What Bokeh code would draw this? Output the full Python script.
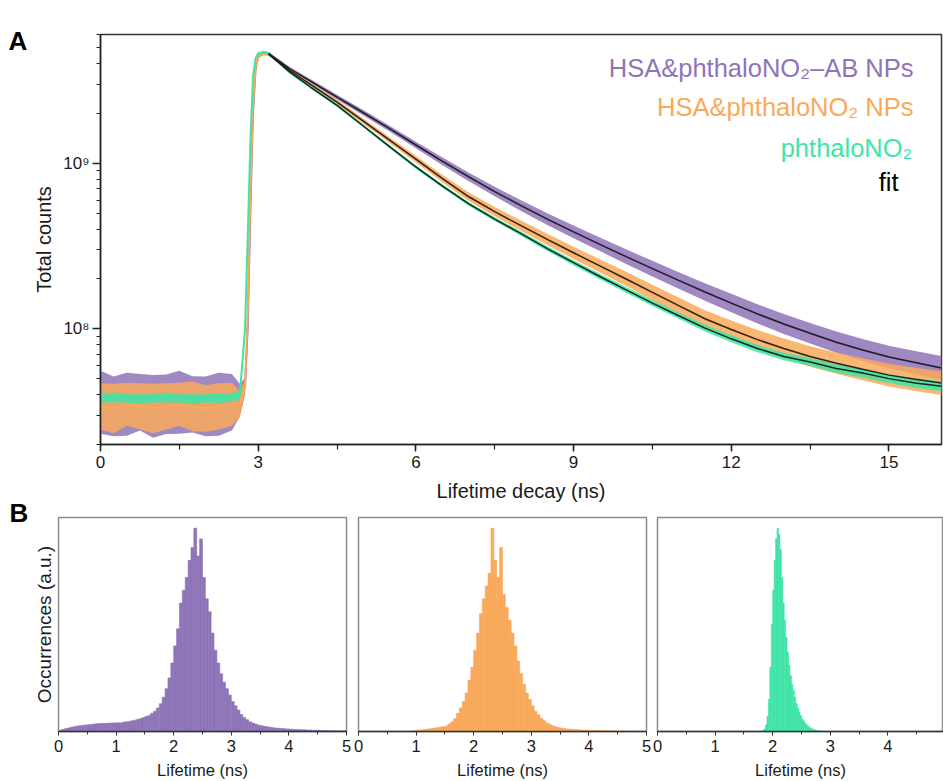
import numpy as np
from bokeh.plotting import figure
from bokeh.models import (Label, Range1d, SingleIntervalTicker, FixedTicker,
                          CustomJSTickFormatter)
from bokeh.layouts import column, row
from bokeh.embed import file_html
from bokeh.resources import INLINE

FONT = "Liberation Sans"
PURPLE = "#8f74b8"
ORANGE = "#f9a95a"
GREEN = "#3fe4a6"
TEXT = "#1a1a1a"

# ---------------- Panel A data ----------------
time_ns = [0.0, 0.25, 0.5, 0.75, 1.0, 1.25, 1.5, 1.75, 2.0, 2.25, 2.5,
           2.65, 2.75, 2.8, 2.85, 2.9, 2.95, 3.0, 3.1, 3.2,
           3.6, 4.0,
           4.5, 5.0, 5.5, 6.0, 6.5, 7.0, 7.5, 8.0, 8.5, 9.0, 9.5, 10.0,
           10.5, 11.0, 11.5, 12.0, 12.5, 13.0, 13.5, 14.0, 14.5, 15.0, 15.5, 16.0]

purple_counts = [3.6e7, 3.4e7, 3.5e7, 3.6e7, 3.4e7, 3.5e7, 3.6e7, 3.5e7, 3.4e7, 3.5e7, 3.6e7,
                 3.7e7, 4.5e7, 1.0e8, 5.0e8, 2.0e9, 3.7e9, 4.4e9, 4.65e9, 4.6e9,
                 3.72e9, 3.13e9,
                 2.51e9, 2.02e9, 1.62e9, 1.29e9, 1.03e9, 8.3e8, 6.75e8, 5.55e8, 4.6e8, 3.85e8,
                 3.24e8, 2.73e8, 2.31e8, 1.96e8, 1.67e8, 1.43e8, 1.23e8, 1.07e8, 9.4e7, 8.3e7,
                 7.45e7, 6.75e7, 6.25e7, 5.8e7]
purple_noise = [0.19, 0.18, 0.19, 0.17, 0.19, 0.18, 0.19, 0.17, 0.18, 0.19, 0.17,
                0.1, 0.05, 0.03, 0.02, 0.02, 0.015, 0.01, 0.01, 0.01,
                0.011, 0.012,
                0.014, 0.016, 0.018, 0.02, 0.023, 0.026, 0.029, 0.032, 0.035, 0.038,
                0.041, 0.044, 0.047, 0.05, 0.053, 0.056, 0.058, 0.06, 0.062, 0.064,
                0.066, 0.068, 0.07, 0.072]

orange_counts = [3.4e7, 3.3e7, 3.5e7, 3.4e7, 3.3e7, 3.4e7, 3.5e7, 3.4e7, 3.3e7, 3.4e7, 3.5e7,
                 3.5e7, 4.5e7, 1.2e8, 6.0e8, 2.2e9, 3.8e9, 4.4e9, 4.6e9, 4.55e9,
                 3.63e9, 2.99e9,
                 2.34e9, 1.80e9, 1.38e9, 1.06e9, 8.1e8, 6.3e8, 5.1e8, 4.2e8, 3.47e8, 2.88e8,
                 2.4e8, 2.0e8, 1.66e8, 1.38e8, 1.15e8, 9.9e7, 8.6e7, 7.6e7, 6.8e7, 6.2e7,
                 5.7e7, 5.25e7, 4.95e7, 4.7e7]
orange_noise = [0.14, 0.15, 0.13, 0.14, 0.15, 0.14, 0.13, 0.15, 0.14, 0.14, 0.13,
                0.08, 0.04, 0.03, 0.02, 0.015, 0.01, 0.01, 0.01, 0.01,
                0.01, 0.012,
                0.014, 0.016, 0.018, 0.02, 0.022, 0.025, 0.028, 0.031, 0.034, 0.037,
                0.04, 0.043, 0.046, 0.049, 0.052, 0.055, 0.058, 0.06, 0.062, 0.064,
                0.066, 0.068, 0.07, 0.072]

green_counts = [3.8e7, 3.85e7, 3.8e7, 3.75e7, 3.8e7, 3.85e7, 3.8e7, 3.75e7, 3.8e7, 3.8e7, 3.85e7,
                4.0e7, 1.0e8, 3.5e8, 1.3e9, 3.3e9, 4.3e9, 4.6e9, 4.7e9, 4.6e9,
                3.55e9, 2.88e9,
                2.24e9, 1.68e9, 1.26e9, 9.5e8, 7.3e8, 5.7e8, 4.6e8, 3.76e8, 3.05e8, 2.51e8,
                2.07e8, 1.72e8, 1.43e8, 1.2e8, 1.01e8, 8.7e7, 7.6e7, 6.8e7, 6.3e7, 5.75e7,
                5.4e7, 5.0e7, 4.7e7, 4.5e7]
green_noise = [0.025, 0.03, 0.025, 0.03, 0.025, 0.03, 0.025, 0.03, 0.025, 0.03, 0.025,
               0.03, 0.02, 0.015, 0.01, 0.01, 0.008, 0.008, 0.008, 0.008,
               0.008, 0.008,
               0.008, 0.008, 0.009, 0.01, 0.01, 0.011, 0.012, 0.013, 0.014, 0.015,
               0.016, 0.017, 0.018, 0.019, 0.02, 0.021, 0.022, 0.023, 0.024, 0.025,
               0.026, 0.027, 0.028, 0.03]

fit_from_ns = 3.2

series_labels = ["HSA&phthaloNO\u2082\u2013AB NPs", "HSA&phthaloNO\u2082 NPs",
                 "phthaloNO\u2082", "fit"]
panel_letters = ["A", "B"]

# ---------------- Panel B data ----------------
purple_hist_start, purple_hist_bin = 0.0, 0.05
purple_hist = [0.005, 0.01, 0.013, 0.016, 0.02, 0.022, 0.025, 0.027, 0.029, 0.03,
               0.032, 0.033, 0.035, 0.036, 0.037, 0.038, 0.038, 0.039, 0.04, 0.04,
               0.041, 0.04, 0.043, 0.045, 0.047, 0.05, 0.053, 0.056, 0.06, 0.065,
               0.07, 0.075, 0.085, 0.095, 0.11, 0.13, 0.16, 0.2, 0.25, 0.32,
               0.4, 0.48, 0.6, 0.66, 0.72, 0.8, 0.86, 0.95, 0.82, 0.9,
               0.72, 0.62, 0.56, 0.46, 0.38, 0.32, 0.27, 0.23, 0.2, 0.17,
               0.14, 0.12, 0.1, 0.08, 0.065, 0.055, 0.045, 0.04, 0.035, 0.03,
               0.027, 0.024, 0.022, 0.02, 0.018, 0.016, 0.015, 0.014, 0.013, 0.012,
               0.011, 0.01, 0.009, 0.009, 0.008, 0.008, 0.007, 0.007, 0.006, 0.006,
               0.006, 0.005, 0.005, 0.005, 0.004, 0.004, 0.004, 0.003, 0.003, 0.003]

orange_hist_start, orange_hist_bin = 0.9, 0.05
orange_hist = [0.002, 0.004,
               0.006, 0.007, 0.008, 0.01, 0.012, 0.014, 0.016, 0.018, 0.021, 0.023,
               0.025, 0.035, 0.045, 0.06, 0.085, 0.11, 0.14, 0.18, 0.24, 0.3,
               0.38, 0.46, 0.55, 0.62, 0.68, 0.74, 0.95, 0.8, 0.72, 0.86,
               0.64, 0.58, 0.52, 0.46, 0.4, 0.33, 0.27, 0.22, 0.18, 0.15,
               0.12, 0.095, 0.078, 0.062, 0.05, 0.04, 0.033, 0.027, 0.022, 0.019,
               0.016, 0.014, 0.012, 0.011, 0.01, 0.009, 0.008, 0.007, 0.006, 0.006,
               0.005, 0.005, 0.004, 0.004, 0.004, 0.003, 0.003, 0.003, 0.003, 0.002,
               0.002, 0.002, 0.002, 0.002, 0.001, 0.001, 0.001, 0.001, 0.001, 0.001]

green_hist_start, green_hist_bin = 1.8, 0.025
green_hist = [0.003, 0.006, 0.012, 0.03, 0.07, 0.15, 0.3, 0.5, 0.66, 0.8,
              0.9, 0.95, 0.92, 0.85, 0.72, 0.6, 0.52, 0.44, 0.37, 0.31,
              0.26, 0.22, 0.19, 0.16, 0.13, 0.11, 0.09, 0.075, 0.06, 0.05,
              0.04, 0.033, 0.026, 0.02, 0.016, 0.012, 0.009, 0.007, 0.005, 0.004,
              0.003, 0.002, 0.002, 0.001]

y_major_A = [1e8, 1e9]

STRIP_W = 30

# ---------------- Panel letters strip ----------------
strip = figure(width=STRIP_W, height=781, x_range=Range1d(0, 1), y_range=Range1d(0, 1),
               min_border=0, x_axis_location=None, y_axis_location=None,
               output_backend="svg", toolbar_location=None)
strip.grid.visible = False
strip.outline_line_color = None
strip.add_layout(Label(x=8, y=781 - 40, x_units="screen", y_units="screen",
                       text=panel_letters[0], text_font=FONT, text_font_style="bold",
                       text_font_size="26px", text_color="#000000",
                       text_baseline="alphabetic"))
strip.add_layout(Label(x=9, y=781 - 512, x_units="screen", y_units="screen",
                       text=panel_letters[1], text_font=FONT, text_font_style="bold",
                       text_font_size="26px", text_color="#000000",
                       text_baseline="alphabetic"))

# ---------------- Panel A ----------------
p = figure(width=943 - STRIP_W, height=516, y_axis_type="log",
           x_range=Range1d(0, 16), y_range=Range1d(2.0e7, 6.0e9),
           min_border_left=100 - STRIP_W, min_border_right=2, min_border_top=34,
           min_border_bottom=72, output_backend="svg", toolbar_location=None)
p.xgrid.visible = False
p.ygrid.visible = False
p.outline_line_color = "#333333"
p.outline_line_width = 1.5

t = np.array(time_ns)
for counts, noise, color in [(purple_counts, purple_noise, PURPLE),
                             (orange_counts, orange_noise, ORANGE),
                             (green_counts, green_noise, GREEN)]:
    c = np.array(counts)
    n = np.array(noise)
    p.varea(x=t, y1=c / 10 ** n, y2=c * 10 ** n, fill_color=color, fill_alpha=0.85)
    p.line(t, c, line_color=color, line_width=2)

mask = t >= fit_from_ns
for counts in [purple_counts, orange_counts, green_counts]:
    p.line(t[mask], np.array(counts)[mask], line_color="#151515", line_width=1.5,
           line_alpha=0.9)

p.xaxis.ticker = SingleIntervalTicker(interval=3, num_minor_ticks=2)
minor_y = [m * 10 ** e for e in (7, 8, 9) for m in range(2, 10) if 2e7 <= m * 10 ** e <= 6e9]
p.yaxis.ticker = FixedTicker(ticks=y_major_A, minor_ticks=minor_y)
p.yaxis.formatter = CustomJSTickFormatter(code="""
const e = Math.round(Math.log10(tick));
const sup = {"7": "\u2077", "8": "\u2078", "9": "\u2079"};
return "10" + sup[String(e)];
""")
for ax in (p.xaxis[0], p.yaxis[0]):
    ax.axis_line_color = "#222222"
    ax.axis_line_width = 1.5
    ax.major_tick_line_color = "#222222"
    ax.minor_tick_line_color = "#222222"
    ax.major_tick_line_width = 1.5
    ax.minor_tick_line_width = 1.2
    ax.major_tick_in = 0
    ax.minor_tick_in = 0
    ax.major_label_text_font = FONT
    ax.major_label_text_font_size = "17px"
    ax.major_label_text_color = TEXT
    ax.axis_label_text_font = FONT
    ax.axis_label_text_font_size = "20px"
    ax.axis_label_text_font_style = "normal"
    ax.axis_label_text_color = TEXT
p.xaxis.major_tick_out = 7
p.xaxis.minor_tick_out = 5
p.xaxis.major_label_standoff = 4
p.xaxis.axis_label = "Lifetime decay (ns)"
p.xaxis.axis_label_standoff = 9
p.yaxis.major_tick_out = 8
p.yaxis.minor_tick_out = 4
p.yaxis.major_label_standoff = 3
p.yaxis.axis_label = "Total counts"
p.yaxis.axis_label_standoff = 5

legend_specs = [(series_labels[0], PURPLE, 813, 377),
                (series_labels[1], ORANGE, 813, 338),
                (series_labels[2], GREEN, 812, 297),
                (series_labels[3], "#000000", 798, 263)]
for txt, col, lx, ly in legend_specs:
    p.add_layout(Label(x=lx, y=ly, x_units="screen", y_units="screen", text=txt,
                       text_align="right", text_baseline="middle", text_font=FONT,
                       text_font_size="25.5px", text_color=col))


# ---------------- Panel B ----------------
def hist_fig(width, left, right, xend, start, binw, heights, color, ylabel=None):
    f = figure(width=width, height=265, x_range=Range1d(0, xend), y_range=Range1d(0, 1),
               min_border_left=left, min_border_right=right, min_border_top=1,
               min_border_bottom=50, output_backend="svg", toolbar_location=None)
    f.xgrid.visible = False
    f.ygrid.visible = False
    f.outline_line_color = "#8c8c8c"
    f.outline_line_width = 1.5
    edges = start + binw * np.arange(len(heights))
    f.quad(left=edges, right=edges + binw, bottom=0, top=heights,
           fill_color=color, line_color=color, line_width=0.6)
    ax = f.xaxis[0]
    ax.ticker = SingleIntervalTicker(interval=1, num_minor_ticks=2)
    ax.axis_line_color = "#333333"
    ax.axis_line_width = 1.5
    ax.major_tick_line_color = "#333333"
    ax.minor_tick_line_color = "#333333"
    ax.major_tick_in = 0
    ax.minor_tick_in = 0
    ax.major_tick_out = 4
    ax.minor_tick_out = 3
    ax.major_label_standoff = 4
    ax.major_label_text_font = FONT
    ax.major_label_text_font_size = "16.5px"
    ax.major_label_text_color = TEXT
    ax.axis_label = "Lifetime (ns)"
    ax.axis_label_text_font = FONT
    ax.axis_label_text_font_size = "16.5px"
    ax.axis_label_text_font_style = "normal"
    ax.axis_label_text_color = TEXT
    ax.axis_label_standoff = 6
    ya = f.yaxis[0]
    if ylabel:
        ya.ticker = FixedTicker(ticks=[])
        ya.axis_label = ylabel
        ya.axis_label_text_font = FONT
        ya.axis_label_text_font_size = "19px"
        ya.axis_label_text_font_style = "normal"
        ya.axis_label_text_color = TEXT
        ya.axis_label_standoff = 4
        ya.axis_line_color = None
        ya.major_tick_line_color = None
        ya.minor_tick_line_color = None
    else:
        ya.visible = False
    return f


b1 = hist_fig(352 - STRIP_W, 58 - STRIP_W, 6, 5, purple_hist_start, purple_hist_bin,
              purple_hist, PURPLE, ylabel="Occurrences (a.u.)")
b2 = hist_fig(300, 6, 6, 5, orange_hist_start, orange_hist_bin, orange_hist, ORANGE)
b3 = hist_fig(291, 5, 0, 5 * 286 / 288, green_hist_start, green_hist_bin, green_hist, GREEN)

layout = row(strip, column(p, row(b1, b2, b3, spacing=0), spacing=0), spacing=0)
open("out.html", "w").write(file_html(layout, INLINE))
